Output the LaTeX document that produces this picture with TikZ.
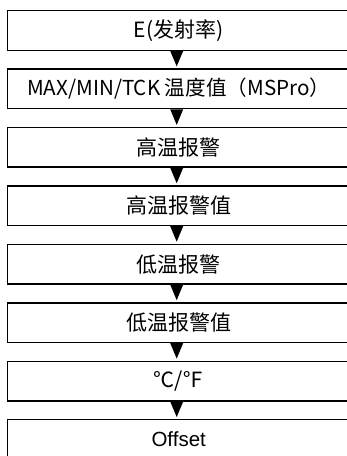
\documentclass[tikz,border=0pt]{standalone}
\usepackage{fontspec}
\setmainfont{Liberation Sans}
\newfontfamily\cjk{Noto Sans CJK SC}
\usetikzlibrary{calc}
\tikzset{
  stepbox/.style={draw=black, line width=1.4pt, minimum width=342pt, minimum height=39.5pt, inner sep=0pt, anchor=north west, font=\cjk\fontsize{21}{24}\selectfont},
  tri/.style={fill=black}
}
\begin{document}
\begin{tikzpicture}[x=1pt,y=-1pt]
\useasboundingbox (0,0) rectangle (347,456);
\clip (0,0) rectangle (347,456);
\node[stepbox] (b1) at (7,10) {E(发射率)};
\node[stepbox] (b2) at (7,68.4) {\fontsize{20.6}{24}\selectfont MAX/MIN/TCK 温度值（MSPro）};
\node[stepbox] (b3) at (7,126.9) {高温报警};
\node[stepbox] (b4) at (7,185.3) {高温报警值};
\node[stepbox] (b5) at (7,243.7) {低温报警};
\node[stepbox] (b6) at (7,302.2) {低温报警值};
\node[stepbox] (b7) at (7,360.6) {℃/℉};
\node[stepbox, font=\fontsize{20.5}{24}\selectfont] (b8) at (7,419) {Offset};
\foreach \a/\b in {b1/b2,b2/b3,b3/b4,b4/b5,b5/b6,b6/b7,b7/b8}{
  \fill[tri] ($(\a.south)+(-8.5,0)$) -- ($(\a.south)+(4.5,0)$) -- ($(\b.north)+(-2,-2)$) -- cycle;
}
\end{tikzpicture}
\end{document}
